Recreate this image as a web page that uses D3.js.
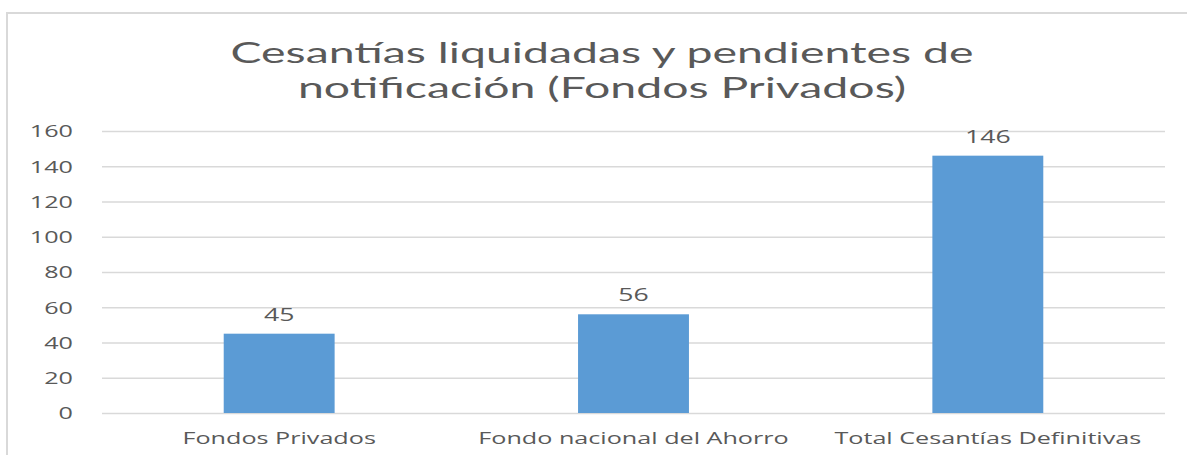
<!DOCTYPE html>
<html>
<head>
<meta charset="utf-8">
<script src="https://cdn.jsdelivr.net/npm/d3@7"></script>
<style>
  body { margin: 0; background: #fff; }
  text { font-family: "Open Sans", sans-serif; fill: #595959; }
  text.title { font-family: Lato, "Open Sans", sans-serif; }
</style>
</head>
<body>
<div id="chart"></div>
<script>
// chart data
var titleLines = ["Cesantías liquidadas y pendientes de", "notificación (Fondos Privados)"];
var categories = ["Fondos Privados", "Fondo nacional del Ahorro", "Total Cesantías Definitivas"];
var values = [45, 56, 146];
var yTicks = [0, 20, 40, 60, 80, 100, 120, 140, 160];

var W = 1187, H = 455;
var margin = {top: 131, right: 22, bottom: 42, left: 102};
var width = W - margin.left - margin.right,
    height = H - margin.top - margin.bottom;
var sx = 1.48; // text looks stretched sideways in the picture

var svg = d3.select("#chart").append("svg")
    .attr("width", W)
    .attr("height", H);

// chart frame (only left and top edges show)
svg.append("line").attr("x1", 7).attr("x2", W).attr("y1", 13).attr("y2", 13)
    .attr("stroke", "#d9d9d9").attr("stroke-width", 2);
svg.append("line").attr("x1", 7).attr("x2", 7).attr("y1", 12).attr("y2", H)
    .attr("stroke", "#d9d9d9").attr("stroke-width", 2);

// title
svg.selectAll("text.title")
    .data(titleLines)
  .enter().append("text")
    .attr("class", "title")
    .attr("text-anchor", "middle")
    .attr("transform", function(d, i) { return "translate(602," + (63 + i * 35) + ") scale(1.6,1)"; })
    .style("font-size", "29px")
    .text(function(d) { return d; });

var g = svg.append("g")
    .attr("transform", "translate(" + margin.left + "," + margin.top + ")");

var x = d3.scaleBand()
    .domain(categories)
    .range([0, width])
    .paddingInner(0.687)
    .paddingOuter(0.3435);

var y = d3.scaleLinear()
    .domain([0, 160])
    .range([height, 0]);

// y axis + gridlines
var yAxis = g.append("g")
    .call(d3.axisLeft(y).tickValues(yTicks).tickSize(-width).tickPadding(0));
yAxis.select(".domain").remove();
yAxis.selectAll(".tick line").attr("stroke", "#d9d9d9").attr("stroke-width", 1.3);
yAxis.selectAll(".tick text")
    .attr("x", null)
    .attr("dy", "0.35em")
    .attr("transform", "translate(-29,0) scale(" + sx + ",1)")
    .style("font-size", "17px")
    .style("font-family", "'Open Sans', sans-serif")
    .attr("fill", "#595959");

// bars
g.selectAll("rect.bar")
    .data(values)
  .enter().append("rect")
    .attr("class", "bar")
    .attr("x", function(d, i) { return x(categories[i]); })
    .attr("width", x.bandwidth())
    .attr("y", function(d) { return y(d); })
    .attr("height", function(d) { return height - y(d); })
    .attr("fill", "#5b9bd5");

// value labels
g.selectAll("text.val")
    .data(values)
  .enter().append("text")
    .attr("class", "val")
    .attr("text-anchor", "middle")
    .attr("transform", function(d, i) {
      return "translate(" + (x(categories[i]) + x.bandwidth() / 2) + "," + (y(d) - 13) + ") scale(" + sx + ",1)";
    })
    .style("font-size", "18px")
    .text(function(d) { return d; });

// category labels
g.selectAll("text.cat")
    .data(categories)
  .enter().append("text")
    .attr("class", "cat")
    .attr("text-anchor", "middle")
    .attr("transform", function(d) {
      return "translate(" + (x(d) + x.bandwidth() / 2) + "," + (height + 31) + ") scale(" + sx + ",1)";
    })
    .style("font-size", "17px")
    .text(function(d) { return d; });
</script>
</body>
</html>
